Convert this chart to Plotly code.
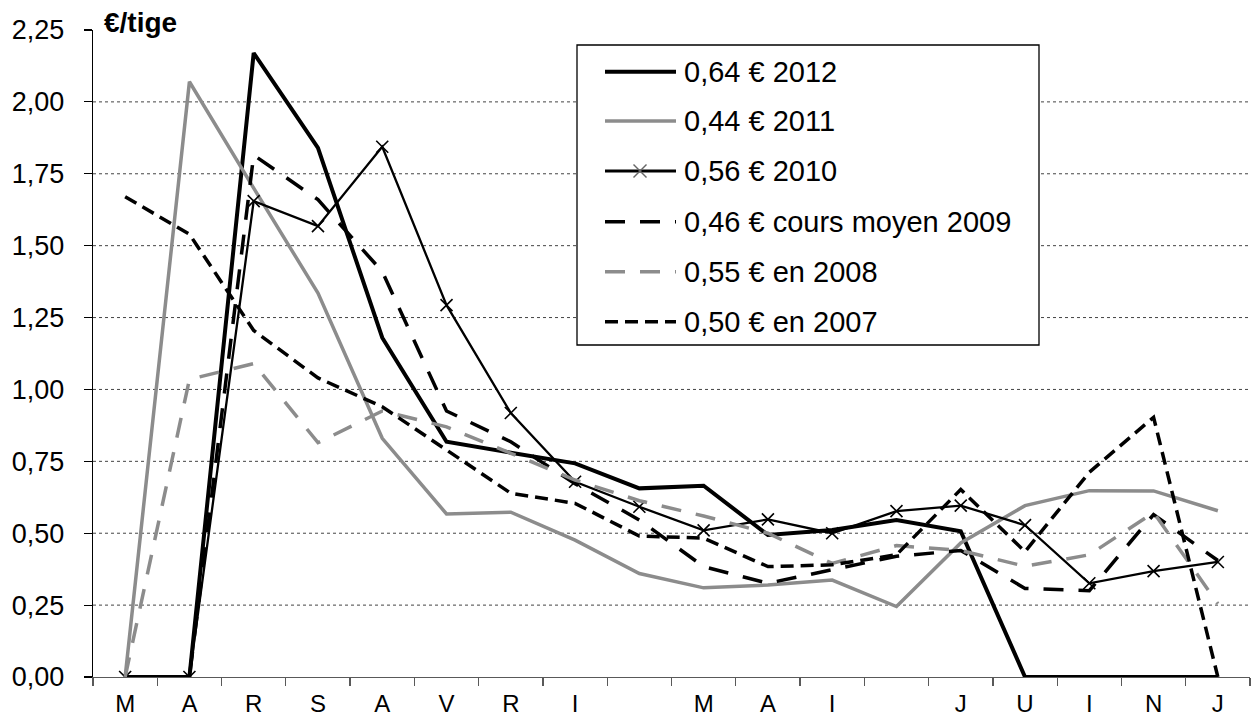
import plotly.graph_objects as go

# ---------------- data ----------------
x_labels = ["M", "A", "R", "S", "A", "V", "R", "I", "", "M", "A", "I", "", "J", "U", "I", "N", "J"]

v2012 = [0, 0, 2.17, 1.84, 1.18, 0.818, 0.78, 0.743, 0.656, 0.665, 0.494, 0.511, 0.546, 0.507, 0, 0, 0, 0]
v2011 = [0, 2.07, 1.70, 1.335, 0.83, 0.567, 0.573, 0.476, 0.36, 0.31, 0.32, 0.337, 0.245, 0.466, 0.596, 0.648, 0.647, 0.578]
v2010 = [0, 0, 1.655, 1.568, 1.844, 1.293, 0.918, 0.679, 0.592, 0.510, 0.548, 0.50, 0.577, 0.596, 0.528, 0.326, 0.368, 0.40]
v2009 = [0, 0, 1.815, 1.66, 1.41, 0.925, 0.818, 0.672, 0.546, 0.384, 0.326, 0.372, 0.42, 0.44, 0.308, 0.30, 0.565, 0.405]
v2008 = [0, 1.035, 1.09, 0.815, 0.925, 0.87, 0.778, 0.685, 0.613, 0.56, 0.50, 0.395, 0.457, 0.44, 0.385, 0.425, 0.572, 0.255]
v2007 = [1.67, 1.54, 1.205, 1.04, 0.94, 0.789, 0.639, 0.604, 0.49, 0.483, 0.384, 0.39, 0.425, 0.652, 0.436, 0.712, 0.903, 0]

series_names = ["0,64 € 2012", "0,44 € 2011", "0,56 € 2010",
                "0,46 € cours moyen 2009", "0,55 € en 2008", "0,50 € en 2007"]

y_ticks = [0, 0.25, 0.5, 0.75, 1.0, 1.25, 1.5, 1.75, 2.0, 2.25]
y_ticktext = ["0,00", "0,25", "0,50", "0,75", "1,00", "1,25", "1,50", "1,75", "2,00", "2,25"]
y_title = "€/tige"

# ---------------- styles ----------------
FONT = "Liberation Sans, Arial, sans-serif"
BLACK = "#000000"
GRAY = "#8c8c8c"
AXGRAY = "#595959"

styles = [
    dict(color=BLACK, width=4, dash="solid"),
    dict(color=GRAY, width=3.5, dash="solid"),
    dict(color=BLACK, width=2.3, dash="solid"),
    dict(color=BLACK, width=3.5, dash="20px,15px"),
    dict(color=GRAY, width=3.5, dash="20px,15px"),
    dict(color=BLACK, width=3.5, dash="13px,7px"),
]

xs = list(range(len(x_labels)))
all_vals = [v2012, v2011, v2010, v2009, v2008, v2007]

fig = go.Figure()
for i, (name, vals, st) in enumerate(zip(series_names, all_vals, styles)):
    if i == 2:
        kw = dict(mode="lines+markers",
                  marker=dict(symbol="x-thin", size=12, line=dict(color=BLACK, width=1.6), color=BLACK))
    else:
        kw = dict(mode="lines")
    fig.add_trace(go.Scatter(x=xs, y=vals, name=name, line=st, showlegend=False,
                             hoverinfo="skip", **kw))

# figure fills the page exactly (body margin removed below)
W, H = 1251, 718
# plot area in page px: x 93..1250, y 30..677
L, T = 93, 30
R = W - 1250
B = H - 677
PW, PH = W - L - R, H - T - B


def xp(px):  # page px -> paper
    return (px - L) / PW


def yp(py):  # page px -> paper
    return (H - B - py) / PH


shapes = []
# dotted gridlines
for v in y_ticks[1:-1]:
    shapes.append(dict(type="line", xref="paper", yref="y", x0=0, x1=1, y0=v, y1=v,
                       line=dict(color="#444444", width=1, dash="dot"), layer="below"))

# manual legend
shapes.append(dict(type="rect", xref="paper", yref="paper", x0=xp(577), x1=xp(1039),
                   y0=yp(345), y1=yp(45), line=dict(color=BLACK, width=1.3),
                   fillcolor="white", layer="above"))
row_y = [71.7, 121, 171, 221.7, 271.7, 321.7]
annotations = []
for st, name, ry in zip(styles, series_names, row_y):
    lw = st["width"] + 0.7 if st["width"] < 3 else st["width"]
    shapes.append(dict(type="line", xref="paper", yref="paper", x0=xp(605), x1=xp(676),
                       y0=yp(ry), y1=yp(ry),
                       line=dict(color=st["color"], width=lw, dash=st["dash"]), layer="above"))
    annotations.append(dict(xref="paper", yref="paper", x=xp(682), y=yp(ry), text=name,
                            showarrow=False, xanchor="left", yanchor="middle",
                            font=dict(family=FONT, size=29, color=BLACK)))
# x marker in legend
mx, my, ms = 640, 171, 6.5
for dx in (-1, 1):
    shapes.append(dict(type="line", xref="paper", yref="paper",
                       x0=xp(mx - ms), x1=xp(mx + ms), y0=yp(my - dx * ms), y1=yp(my + dx * ms),
                       line=dict(color="#666666", width=1.4), layer="above"))

annotations.append(dict(xref="paper", yref="paper", x=xp(102), y=yp(22), text="<b>" + y_title + "</b>",
                        showarrow=False, xanchor="left", yanchor="middle",
                        font=dict(family=FONT, size=28, color=BLACK)))

boundaries = [i - 0.5 for i in range(len(x_labels) + 1)]

fig.update_layout(
    width=W, height=H,
    margin=dict(l=L, r=R, t=T, b=B, pad=0, autoexpand=False),
    paper_bgcolor="white", plot_bgcolor="white",
    font=dict(family=FONT, size=27, color=BLACK),
    showlegend=False,
    shapes=shapes,
    annotations=annotations,
    xaxis=dict(range=[-0.5, len(x_labels) - 0.5], tickmode="array", tickvals=xs, ticktext=x_labels,
               ticks="", showline=True, linecolor=AXGRAY, linewidth=1.3, showgrid=False,
               zeroline=False, automargin=False, tickfont=dict(size=24, family=FONT, color=BLACK),
               ticklabelstandoff=5,
               minor=dict(tickmode="array", tickvals=boundaries, ticks="outside", ticklen=8,
                          tickcolor=AXGRAY, tickwidth=1.3, showgrid=False)),
    xaxis2=dict(range=[-0.5, len(x_labels) - 0.5], overlaying="x", anchor="y", side="bottom",
                tickmode="array", tickvals=boundaries, ticktext=[""] * len(boundaries),
                ticks="inside", ticklen=7, tickcolor=AXGRAY, tickwidth=1.3, automargin=False,
                showticklabels=False, showline=False, showgrid=False, zeroline=False),
    yaxis=dict(range=[0, 2.25], tickmode="array", tickvals=y_ticks, ticktext=y_ticktext,
               ticks="outside", ticklen=8, tickcolor=BLACK, tickwidth=1.2, automargin=False,
               showline=True, linecolor=BLACK, linewidth=1.2, showgrid=False, zeroline=False,
               tickfont=dict(size=27, family=FONT, color=BLACK), ticklabelstandoff=14),
)

fig.write_html(
    "out.html",
    config={"displayModeBar": False, "staticPlot": True},
    post_script="document.body.style.margin='0px';document.body.style.overflow='hidden';"
                "document.documentElement.style.overflow='hidden';",
)
